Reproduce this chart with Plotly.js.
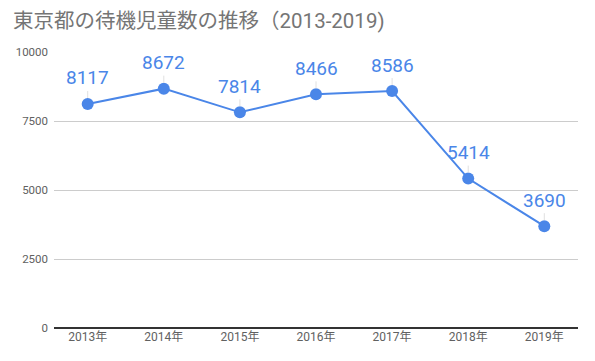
<!DOCTYPE html>
<html>
<head>
<meta charset="utf-8">
<script src="https://cdn.plot.ly/plotly-3.0.1.min.js"></script>
<style>html,body{margin:0;padding:0;background:#fff;}#chart{width:595px;height:361px;}</style>
</head>
<body>
<div id="chart"></div>
<script>
const years = ["2013年","2014年","2015年","2016年","2017年","2018年","2019年"];
const waiting = [8117, 8672, 7814, 8466, 8586, 5414, 3690];
const yTicks = [0, 2500, 5000, 7500, 10000];

const FONT = "Roboto, 'Noto Sans CJK JP', sans-serif";
const BLUE = "#4a86e8";

const annotations = years.map((y, i) => ({
  x: y, y: waiting[i], xref: "x", yref: "y",
  text: String(waiting[i]),
  showarrow: true, arrowhead: 0, arrowwidth: 1, arrowcolor: "#e0e0e0",
  ax: 0, ay: -26, standoff: 6, startstandoff: 0,
  font: {family: FONT, size: 19, color: BLUE}
}));

Plotly.newPlot("chart", [{
  x: years, y: waiting, type: "scatter", mode: "lines+markers",
  line: {color: BLUE, width: 2},
  marker: {color: BLUE, size: 12},
  hoverinfo: "none"
}], {
  width: 595, height: 361,
  margin: {l: 54, r: 17, t: 52, b: 33},
  paper_bgcolor: "#fff", plot_bgcolor: "#fff",
  showlegend: false,
  title: {text: "東京都の待機児童数の推移（2013-2019)", x: 0.022, xanchor: "left", y: 0.942, yanchor: "middle",
          font: {family: FONT, size: 20.5, color: "#757575"}},
  xaxis: {type: "category", showgrid: false, zeroline: false, showline: false,
          ticks: "", tickfont: {family: FONT, size: 12, color: "#616161"}, fixedrange: true},
  yaxis: {range: [0, 10000], tickvals: yTicks, ticktext: yTicks.map(String),
          showgrid: true, gridcolor: "#cccccc", gridwidth: 1,
          zeroline: true, zerolinecolor: "#333333", zerolinewidth: 1.5,
          showline: false, ticks: "", ticklabelstandoff: 5,
          tickfont: {family: FONT, size: 11.5, color: "#616161"}, fixedrange: true},
  annotations: annotations
}, {displayModeBar: false, staticPlot: true});
</script>
</body>
</html>
